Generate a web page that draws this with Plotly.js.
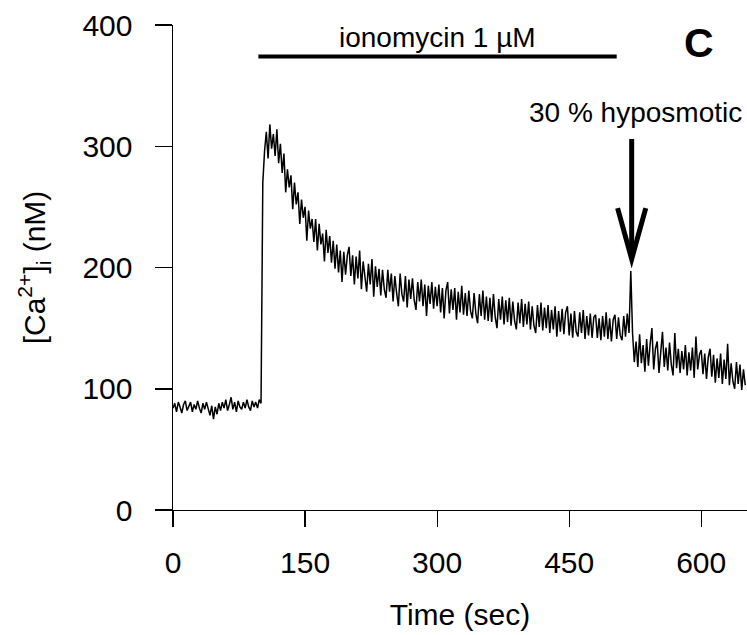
<!DOCTYPE html>
<html>
<head>
<meta charset="utf-8">
<script src="https://cdn.plot.ly/plotly-3.0.1.min.js"></script>
<style>
  html, body { margin: 0; padding: 0; background: #fff; }
  #chart { width: 747px; height: 635px; }
</style>
</head>
<body>
<div id="chart"></div>
<script>
// Sampling of the trace (seconds)
const timeStart = 0;
const timeStep = 2;

// [Ca2+]i (nM), one value every 2 s from t = 0 to t = 650
const baseline = [
  84, 88, 81, 89, 85, 80, 87, 90, 82, 86,
  89, 81, 87, 83, 90, 84, 80, 88, 83, 89,
  82, 78, 86, 75, 85, 79, 88, 82, 89, 84,
  91, 82, 87, 93, 83, 89, 81, 90, 85, 83,
  89, 84, 91, 85, 82, 90, 85, 89, 84, 91
];
const ionomycinPhase = [
  88, 270, 296, 312, 290, 318, 298, 310, 292, 314,
  286, 302, 278, 294, 262, 281, 266, 276, 248, 270,
  252, 262, 236, 256, 241, 250, 222, 247, 232, 240,
  221, 240, 214, 236, 219, 228, 205, 231, 212, 226,
  204, 222, 199, 219, 196, 214, 188, 213, 194, 210,
  217, 193, 210, 186, 209, 191, 214, 182, 205, 190,
  180, 203, 186, 207, 176, 201, 184, 199, 177, 198,
  182, 175, 198, 180, 195, 172, 193, 179, 168, 195,
  178, 172, 193, 167, 190, 174, 191, 173, 165, 188,
  172, 190, 168, 186, 160, 185, 170, 188, 166, 184,
  168, 186, 163, 183, 158, 181, 188, 162, 182, 165,
  183, 157, 180, 163, 185, 161, 179, 160, 181, 164,
  158, 179, 162, 154, 178, 160, 181, 157, 176, 156,
  175, 155, 178, 159, 150, 174, 157, 176, 153, 173,
  155, 175, 152, 172, 156, 149, 171, 154, 174, 151,
  170, 153, 172, 149, 168, 152, 146, 169, 151, 171,
  148, 167, 150, 169, 146, 165, 149, 168, 143, 164,
  147, 166, 145, 163, 168, 144, 162, 142, 164, 147,
  143, 163, 146, 165, 141, 160, 144, 162, 142, 159,
  161, 142, 158, 140, 160, 143, 163, 141, 158, 139,
  157, 161, 141, 159, 144, 140, 160, 143, 162, 146
];
const hyposmoticPhase = [
  197, 146, 122, 139, 118, 145, 121, 136, 114, 141,
  119, 137, 150, 116, 133, 139, 113, 130, 147, 118,
  134, 115, 138, 120, 111, 146, 117, 133, 113, 131,
  116, 136, 111, 130, 115, 134, 109, 143, 116, 128,
  132, 112, 129, 108, 126, 133, 110, 128, 105, 125,
  109, 129, 104, 124, 108, 137, 103, 121, 106, 100,
  122, 104, 120, 99, 116, 103
];
const calcium = baseline.concat(ionomycinPhase, hyposmoticPhase);

// Axis ticks
const xTicks = [0, 150, 300, 450, 600];
const xTickLabels = ['0', '150', '300', '450', '600'];
const yTicks = [0, 100, 200, 300, 400];
const yTickLabels = ['0', '100', '200', '300', '400'];

// Annotation values (data units)
const ionomycinStart = 97, ionomycinEnd = 504, ionomycinLevel = 374;
const hypoTime = 521, hypoArrowTop = 306, hypoArrowTip = 207;
const hypoWingLeft = 505, hypoWingRight = 537, hypoWingLevel = 249;

const font = 'Liberation Sans, Arial, Helvetica, sans-serif';

const trace = {
  type: 'scatter',
  mode: 'lines',
  x0: timeStart,
  dx: timeStep,
  y: calcium,
  line: { color: '#000', width: 1.5 },
  hoverinfo: 'x+y'
};

const layout = {
  width: 747,
  height: 635,
  margin: { l: 173, r: 0, t: 25, b: 125 },
  paper_bgcolor: '#fff',
  plot_bgcolor: '#fff',
  showlegend: false,
  font: { family: font, color: '#000', size: 30 },
  xaxis: {
    range: [0, 652],
    tickvals: xTicks,
    ticktext: xTickLabels,
    ticks: 'outside',
    ticklen: 16,
    tickwidth: 1.2,
    tickcolor: '#000',
    showline: true,
    linecolor: '#000',
    linewidth: 1,
    showgrid: false,
    zeroline: false,
    ticklabelstandoff: 10,
    tickfont: { size: 30, family: font },
    title: { text: 'Time (sec)', font: { size: 30, family: font }, standoff: 25 },
    automargin: false
  },
  yaxis: {
    range: [0, 400],
    tickvals: yTicks,
    ticktext: yTickLabels,
    ticks: 'outside',
    ticklen: 17,
    tickwidth: 1.5,
    tickcolor: '#000',
    showline: true,
    linecolor: '#000',
    linewidth: 1.5,
    showgrid: false,
    zeroline: false,
    ticklabelstandoff: 16,
    tickfont: { size: 30, family: font },
    title: { text: '[Ca<sup>2+</sup>]<sub>i</sub> (nM)', font: { size: 30, family: font }, standoff: 28 },
    automargin: false
  },
  shapes: [
    {
      type: 'line', xref: 'x', yref: 'y',
      x0: ionomycinStart, x1: ionomycinEnd, y0: ionomycinLevel, y1: ionomycinLevel,
      line: { color: '#000', width: 4 }
    },
    {
      type: 'line', xref: 'x', yref: 'y',
      x0: hypoTime, x1: hypoTime, y0: hypoArrowTop, y1: hypoArrowTip + 3,
      line: { color: '#000', width: 5 }
    },
    {
      type: 'path', xref: 'x', yref: 'y',
      path: 'M ' + hypoWingLeft + ',' + hypoWingLevel + ' L ' + hypoTime + ',' + hypoArrowTip +
            ' L ' + hypoWingRight + ',' + hypoWingLevel,
      line: { color: '#000', width: 5 }
    }
  ],
  annotations: [
    {
      xref: 'x', yref: 'y', x: (ionomycinStart + ionomycinEnd) / 2, y: ionomycinLevel,
      yanchor: 'bottom', yshift: 2, showarrow: false,
      text: 'ionomycin 1 µM', font: { size: 28, family: font }
    },
    {
      xref: 'x', yref: 'y', x: hypoTime, y: hypoArrowTop,
      yanchor: 'bottom', xshift: 4, yshift: 9, showarrow: false,
      text: '30 % hyposmotic', font: { size: 28, family: font }
    },
    {
      xref: 'paper', yref: 'paper', x: 0.916, y: 0.963,
      xanchor: 'center', yanchor: 'middle', showarrow: false,
      text: '<b>C</b>', font: { size: 41, family: font }
    }
  ]
};

Plotly.newPlot('chart', [trace], layout, { displayModeBar: false, staticPlot: true });
</script>
</body>
</html>
